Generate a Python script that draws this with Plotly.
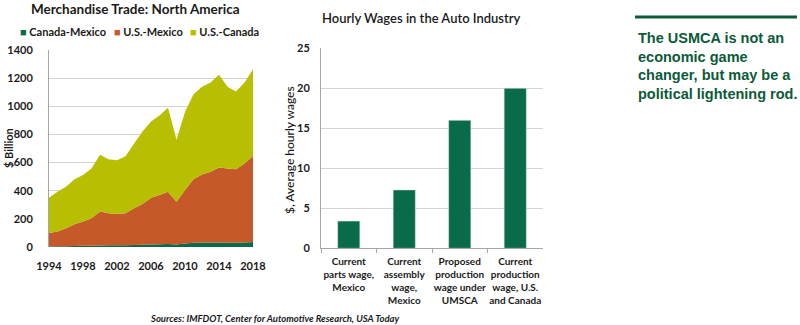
import plotly.graph_objects as go

# ---------------- data ----------------
years = list(range(1994, 2019))
canada_mexico = [4, 5, 6, 7, 8, 9, 11, 12, 12, 12, 14, 16, 18, 20, 22, 18, 25, 30, 32, 32, 32, 30, 30, 32, 35]
us_mexico = [95, 105, 128, 155, 173, 196, 241, 228, 223, 228, 261, 290, 332, 349, 371, 304, 380, 452, 483, 502, 533, 528, 523, 561, 612]
us_canada = [251, 283, 294, 320, 330, 353, 404, 383, 381, 405, 459, 515, 542, 565, 597, 440, 555, 604, 623, 635, 659, 580, 552, 576, 617]
series_names = ["Canada-Mexico", "U.S.-Mexico", "U.S.-Canada"]

wage_labels = ["Current<br>parts wage,<br>Mexico",
               "Current<br>assembly<br>wage,<br>Mexico",
               "Proposed<br>production<br>wage under<br>UMSCA",
               "Current<br>production<br>wage, U.S.<br>and Canada"]
wage_values = [3.4, 7.3, 16.0, 20.0]

title_left = "Merchandise Trade: North America"
title_right = "Hourly Wages in the Auto Industry"
note_lines = ["The USMCA is not an", "economic game", "changer, but may be a", "political lightening rod."]
sources = "Sources: IMFDOT, Center for Automotive Research, USA Today"

# ---------------- style ----------------
W, H = 800, 325
GREEN = "#0A6B4A"
ORANGE = "#C6592A"
YELLOW = "#B8BE00"
DARK = "#0B5A38"
GRID = "#D4D4D4"
FONT = "Lato"

def px(x):
    return x / W

def py(y):
    return 1 - y / H

fig = go.Figure()
colors = [GREEN, ORANGE, YELLOW]
for name, vals, c in zip(series_names, [canada_mexico, us_mexico, us_canada], colors):
    fig.add_trace(go.Scatter(x=years, y=vals, name=name, stackgroup="one",
                             mode="none", fillcolor=c, showlegend=False,
                             xaxis="x", yaxis="y"))

fig.add_trace(go.Bar(x=wage_labels, y=wage_values, marker_color=GREEN,
                     showlegend=False, xaxis="x2", yaxis="y2"))

tickfont = dict(family=FONT, size=11, color="#1a1a1a", weight="bold")

fig.update_layout(
    width=W, height=H, margin=dict(l=0, r=0, t=0, b=0, autoexpand=False),
    paper_bgcolor="white", plot_bgcolor="white",
    bargap=0.6,
    xaxis=dict(domain=[px(49), px(253)], range=[1994, 2018], tick0=1994, dtick=4,
               showgrid=False, zeroline=False, showline=False, ticks="",
               tickfont=tickfont, ticklabelstandoff=11, automargin=False),
    yaxis=dict(domain=[py(247), py(50)], range=[0, 1400], dtick=200,
               showgrid=True, gridcolor=GRID, zeroline=False,
               showline=True, linecolor="#A6A6A6", ticks="",
               tickfont=tickfont, ticklabelstandoff=13, automargin=False),
    xaxis2=dict(domain=[px(321), px(543)], anchor="y2", type="category",
                showgrid=False, showline=True, linecolor="#A6A6A6",
                ticks="outside", tickson="boundaries", ticklen=4, tickcolor="#A6A6A6",
                tickangle=0,
                tickfont=dict(family=FONT, size=10, color="#1a1a1a", weight="bold"),
                ticklabelstandoff=4, automargin=False),
    yaxis2=dict(domain=[py(248.3), py(48.3)], anchor="x2", range=[0, 25], dtick=5,
                showgrid=True, gridcolor=GRID, zeroline=False,
                showline=True, linecolor="#A6A6A6", ticks="",
                tickfont=tickfont, ticklabelstandoff=8, automargin=False),
)

ann = []
ann.append(dict(x=px(135), y=py(9), text=title_left,
                font=dict(family=FONT, size=13.5, color="#1a1a1a", weight="bold")))
ann.append(dict(x=px(421), y=py(18), text=title_right,
                font=dict(family=FONT, size=13, color="#1a1a1a", weight=600)))
# legend
leg_x = [18, 112, 188]
for name, c, lx in zip(series_names, colors, leg_x):
    ann.append(dict(x=px(lx), y=py(31.5), xanchor="left",
                    text=f"<span style='color:{c}'>■</span> {name}",
                    font=dict(family=FONT, size=11, color="#1a1a1a", weight="bold")))
ann.append(dict(x=px(8), y=py(148), text="$ Billion", textangle=-90,
                font=dict(family=FONT, size=11, color="#1a1a1a", weight="bold")))
ann.append(dict(x=px(289), y=py(150), text="$, Average hourly wages", textangle=-90,
                font=dict(family=FONT, size=12, color="#1a1a1a", weight=500)))
ann.append(dict(x=px(275), y=py(318), text=f"<i>{sources}</i>",
                font=dict(family=FONT, size=9.5, color="#1a1a1a", weight="bold")))
for i, line in enumerate(note_lines):
    ann.append(dict(x=px(636), y=py(38 + i * 18.5), xanchor="left", text=line,
                    font=dict(family="Liberation Sans", size=14.5, color=DARK, weight="bold")))
for a in ann:
    a.setdefault("xref", "paper")
    a.setdefault("yref", "paper")
    a.setdefault("xanchor", "center")
    a.setdefault("yanchor", "middle")
    a["showarrow"] = False
fig.update_layout(annotations=ann)

fig.add_shape(type="line", xref="paper", yref="paper", x0=px(635), x1=px(797),
              y0=py(17), y1=py(17), line=dict(color=DARK, width=3))

fig.write_html("out.html")
